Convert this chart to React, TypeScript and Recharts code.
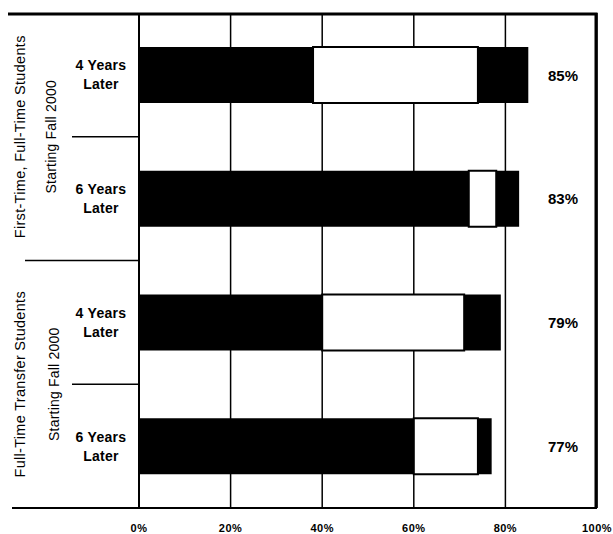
import React from "react";
import { BarChart, Bar, XAxis, YAxis, CartesianGrid, LabelList, Customized } from "recharts";

const categories = ["ft4", "ft6", "tr4", "tr6"];
const categoryLines = [["4 Years", "Later"], ["6 Years", "Later"], ["4 Years", "Later"], ["6 Years", "Later"]];
const firstSegment = [38, 72, 40, 60];
const middleSegment = [36, 6, 31, 14];
const lastSegment = [11, 5, 8, 3];
const totals = ["85%", "83%", "79%", "77%"];
const groupLabels = [
  ["First-Time, Full-Time Students", "Starting Fall 2000"],
  ["Full-Time Transfer Students", "Starting Fall 2000"],
];
const xTicks = [0, 20, 40, 60, 80, 100];

const data = categories.map((c, i) => ({
  key: c,
  a: firstSegment[i],
  b: middleSegment[i],
  c: lastSegment[i],
  total: totals[i],
}));

const W = 613;
const H = 534;
const ML = 139;
const MR = 16;
const MT = 13;
const XH = 26;
const plotRight = W - MR;
const plotBottom = H - XH;
const plotH = plotBottom - MT;
const band = plotH / categories.length;
const FONT = "'Liberation Sans', Arial, sans-serif";

const YTick = (props: any) => {
  const { x, y, index } = props;
  const lines = categoryLines[index] || [];
  return (
    <g>
      {lines.map((l, i) => (
        <text
          key={i}
          x={x - 30}
          y={y + (i === 0 ? -9.5 : 9.5)}
          textAnchor="middle"
          dominantBaseline="central"
          fontFamily={FONT}
          fontSize={14}
          fontWeight="bold"
          letterSpacing={0.3}
          fill="#000"
        >
          {l}
        </text>
      ))}
    </g>
  );
};

const XTick = (props: any) => {
  const { x, y, payload } = props;
  return (
    <text
      x={x}
      y={y + 12}
      textAnchor="middle"
      dominantBaseline="central"
      fontFamily={FONT}
      fontSize={11}
      fontWeight="bold"
      letterSpacing={0.5}
      fill="#000"
    >
      {payload.value + "%"}
    </text>
  );
};

const TotalLabel = (props: any) => {
  const { y, height, index } = props;
  return (
    <text
      x={plotRight - 34}
      y={y + height / 2}
      textAnchor="middle"
      dominantBaseline="central"
      fontFamily={FONT}
      fontSize={15}
      fontWeight="bold"
      fill="#000"
    >
      {totals[index]}
    </text>
  );
};

const Frame = () => {
  const b1 = MT + band;
  const b2 = MT + band * 2;
  const b3 = MT + band * 3;
  const g1 = MT + band;
  const g2 = MT + band * 3;
  return (
    <g>
      <path d={`M8,${MT + 1}H${plotRight - 1}V${plotBottom}`} fill="none" stroke="#000" strokeWidth={3} />
      <path d={`M12,${plotBottom}H${ML}`} fill="none" stroke="#000" strokeWidth={2} />
      <path d={`M72,${b1}H${ML}`} fill="none" stroke="#000" strokeWidth={1.5} />
      <path d={`M25,${b2}H${ML}`} fill="none" stroke="#000" strokeWidth={1.5} />
      <path d={`M72,${b3}H${ML}`} fill="none" stroke="#000" strokeWidth={1.5} />
      {groupLabels.map((g, i) => {
        const cy = i === 0 ? g1 : g2;
        const x2 = i === 0 ? 51 : 54;
        return (
          <g key={i}>
            <text
              x={20}
              y={cy}
              transform={`rotate(-90 20 ${cy})`}
              textAnchor="middle"
              dominantBaseline="central"
              fontFamily={FONT}
              fontSize={14.5}
              letterSpacing={0.3}
              fill="#000"
            >
              {g[0]}
            </text>
            <text
              x={x2}
              y={cy}
              transform={`rotate(-90 ${x2} ${cy})`}
              textAnchor="middle"
              dominantBaseline="central"
              fontFamily={FONT}
              fontSize={14}
              letterSpacing={0.2}
              fill="#000"
            >
              {g[1]}
            </text>
          </g>
        );
      })}
    </g>
  );
};

export default function App() {
  return (
    <div style={{ position: "absolute", left: 0, top: 0, width: W, height: H, background: "#fff", overflow: "hidden" }}>
      <BarChart
        width={W}
        height={H}
        data={data}
        layout="vertical"
        margin={{ top: MT, right: MR, left: 0, bottom: 0 }}
        barSize={56}
      >
        <CartesianGrid horizontal={false} vertical={true} stroke="#000" strokeWidth={1.5} strokeOpacity={1} />
        <XAxis
          type="number"
          domain={[0, 100]}
          ticks={xTicks}
          height={XH}
          axisLine={{ stroke: "#000", strokeWidth: 2 }}
          tickLine={false}
          tick={<XTick />}
          interval={0}
        />
        <YAxis
          type="category"
          dataKey="key"
          width={ML}
          axisLine={{ stroke: "#000", strokeWidth: 2 }}
          tickLine={false}
          tick={<YTick />}
          interval={0}
        />
        <Bar dataKey="a" stackId="s" fill="#000" isAnimationActive={false} />
        <Bar dataKey="b" stackId="s" fill="#fff" stroke="#000" strokeWidth={2} isAnimationActive={false} />
        <Bar dataKey="c" stackId="s" fill="#000" isAnimationActive={false}>
          <LabelList dataKey="total" content={<TotalLabel />} />
        </Bar>
        <Customized component={<Frame />} />
      </BarChart>
    </div>
  );
}
